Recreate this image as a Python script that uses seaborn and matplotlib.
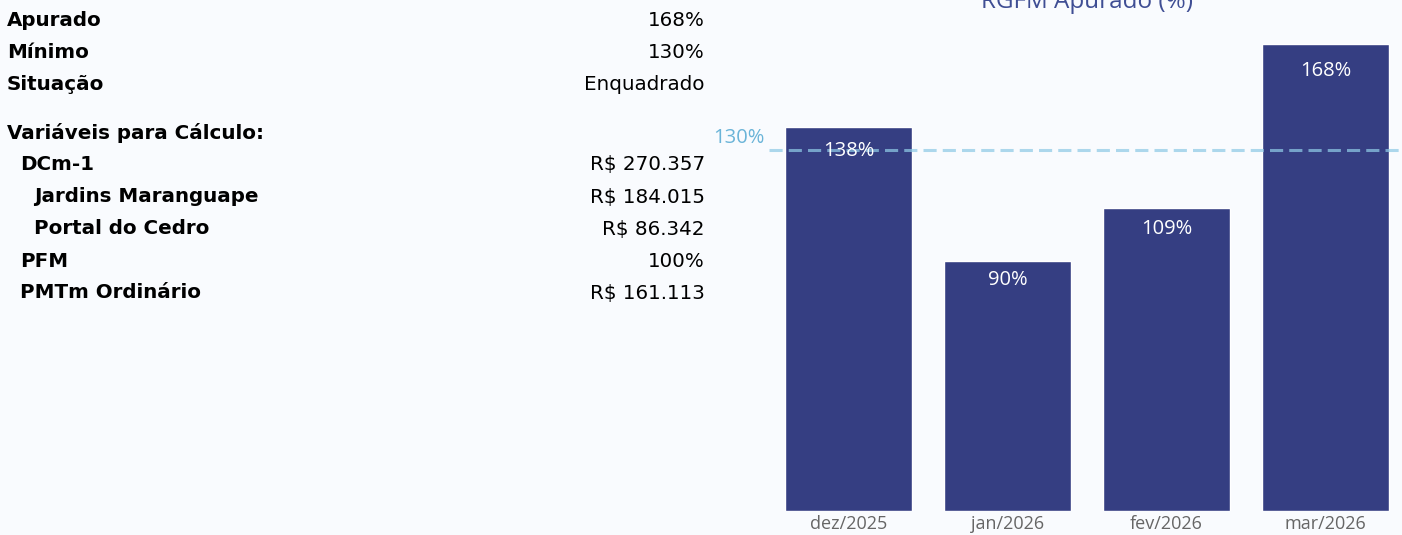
import matplotlib
matplotlib.use('Agg')
import matplotlib.pyplot as plt
import seaborn as sns
import pandas as pd

# dados do grafico
months = ['dez/2025', 'jan/2026', 'fev/2026', 'mar/2026']
rgfm = [138, 90, 109, 168]
minimo = 130

# tabela da esquerda
info_labels = ['Apurado', 'Mínimo', 'Situação', 'Variáveis para Cálculo:', 'DCm-1',
               'Jardins Maranguape', 'Portal do Cedro', 'PFM', 'PMTm Ordinário']
info_values = ['168%', '130%', 'Enquadrado', '', 'R$ 270.357', 'R$ 184.015',
               'R$ 86.342', '100%', 'R$ 161.113']
info_levels = [0, 0, 0, 0, 1, 2, 2, 1, 1]

sns.set_style('white')
plt.rcParams['font.family'] = ['DejaVu Sans']

W, H = 1402, 535
bar_color = '#353e82'
line_color = '#8ecae6'
bg = '#f9fbfe'

fig = plt.figure(figsize=(W / 100, H / 100), dpi=100, facecolor=bg)

# left table
y = 20
for i, (lab, val, lvl) in enumerate(zip(info_labels, info_values, info_levels)):
    if i == 3:
        y += 17
    fig.text((7 + 13.5 * lvl) / W, 1 - y / H, lab, fontsize=14.3, fontweight='bold',
             va='center', ha='left', color='black')
    if val:
        fig.text(705 / W, 1 - y / H, val, fontsize=14.3, va='center', ha='right', color='black')
    y += 32

# bar chart
ax = fig.add_axes([769 / W, (H - 511) / H, (W - 769) / W, 511 / H])
ax.set_facecolor('none')
df = pd.DataFrame({'mes': months, 'rgfm': rgfm})
sns.barplot(data=df, x='mes', y='rgfm', color=bar_color, saturation=1, width=0.8, ax=ax, zorder=2)
ax.set_ylim(0, 511 * 168 / 467)
ax.set_xlim(-0.5, 3.481)
ax.axhline(minimo, color=line_color, lw=2.2, ls=(0, (4.3, 2)), alpha=0.72, zorder=3)
ax.annotate(f'{minimo}%', xy=(0, minimo), xycoords=('axes fraction', 'data'),
            xytext=(-3, 8.6), textcoords='offset points', ha='right', va='center',
            fontsize=14.5, color='#6ab4d8', family='Open Sans', annotation_clip=False)

for i, v in enumerate(rgfm):
    ax.annotate(f'{v}%', xy=(i, v * 0.964 - 3.6), ha='center', va='center',
                fontsize=14.5, color='white', family='Open Sans', zorder=4)

ax.set_xlabel('')
ax.set_ylabel('')
ax.set_yticks([])
ax.tick_params(axis='x', length=0, pad=3, labelsize=13, labelcolor='#666666')
for t in ax.get_xticklabels():
    t.set_family('Open Sans')
sns.despine(ax=ax, left=True, bottom=True)

fig.text(1087 / W, 1 - 8 / H, 'RGFM Apurado (%)', ha='center', va='baseline',
         fontsize=17.5, color='#3f4e94', family='Open Sans')

fig.savefig('out.png', dpi=100, facecolor=bg)
